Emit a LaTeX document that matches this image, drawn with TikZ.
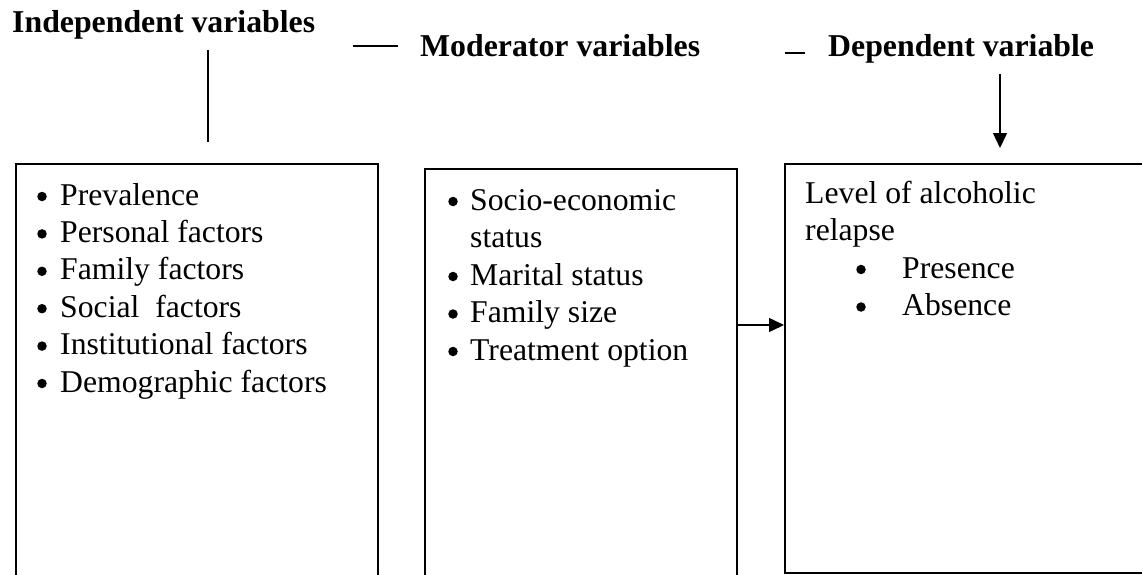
\documentclass[tikz,border=0pt]{standalone}
\usepackage{fontspec}
\setmainfont{Liberation Serif}
\usetikzlibrary{arrows.meta}
\begin{document}
\begin{tikzpicture}[x=1pt,y=-1pt,
  frame/.style={draw,line width=1.5pt,rectangle,anchor=north west,inner sep=0pt},
  head/.style={anchor=base west,inner sep=0pt,font=\fontsize{31.8}{36}\selectfont\bfseries},
  item/.style={anchor=base west,inner sep=0pt,font=\fontsize{31.7}{37}\selectfont},
  bul/.style={circle,fill,inner sep=0pt,minimum size=9.5pt},
  conn/.style={line width=1.5pt},
  arr/.style={line width=1.5pt,-{Triangle[length=15pt,width=14pt]}}]
\useasboundingbox (0,0) rectangle (1142,575);
% headings
\node[head] (hind) at (12,33) {Independent variables};
\node[head] (hmod) at (420,57) {Moderator variables};
\node[head] (hdep) at (828,57) {Dependent variable};
% boxes
\node[frame,minimum width=362pt,minimum height=430pt] (b1) at (15,163) {};
\node[frame,minimum width=312pt,minimum height=420pt] (b2) at (424,168) {};
\node[frame,minimum width=365pt,minimum height=409pt] (b3) at (784,163) {};
% box 1 items
\foreach \t [count=\i] in {Prevalence,Personal factors,Family factors,Social\ \ factors,Institutional factors,Demographic factors}{
  \node[bul] (b1d\i) at (42,{205-8.5+37.4*(\i-1)}) {};
  \node[item] (b1t\i) at (60,{205+37.4*(\i-1)}) {\t};
}
% box 2 items
\node[bul] (b2d1) at (453,{210-8.5}) {};
\node[item] (b2t1) at (470,210) {Socio-economic};
\node[item] (b2t1b) at (470,247.5) {status};
\node[bul] (b2d2) at (453,{285-8.5}) {};
\node[item] (b2t2) at (470,285) {Marital status};
\node[bul] (b2d3) at (453,{322.5-8.5}) {};
\node[item] (b2t3) at (470,322.5) {Family size};
\node[bul] (b2d4) at (453,{360-8.5}) {};
\node[item] (b2t4) at (470,360) {Treatment option};
% box 3 items
\node[item] (b3t1) at (805,203) {Level of alcoholic};
\node[item] (b3t2) at (805,240.5) {relapse};
\node[bul] (b3d1) at (861,{278-8.5}) {};
\node[item] (b3t3) at (902,278) {Presence};
\node[bul] (b3d2) at (861,{315.5-8.5}) {};
\node[item] (b3t4) at (902,315.5) {Absence};
% connectors
\coordinate (v1a) at (208,50);
\coordinate (v1b) at (208,142);
\draw[conn] (v1a) -- (v1b);
\coordinate (h1a) at (353,46);
\coordinate (h1b) at (398,46);
\draw[conn] (h1a) -- (h1b);
\coordinate (h2a) at (785,53);
\coordinate (h2b) at (805,53);
\draw[conn] (h2a) -- (h2b);
\coordinate (dtop) at (1000,74);
\coordinate (dbot) at (1000,148);
\draw[arr] (dtop) -- (dbot);
\draw[arr] (b2.east |- 0,325) -- (b3.west |- 0,325);
\end{tikzpicture}
\end{document}
